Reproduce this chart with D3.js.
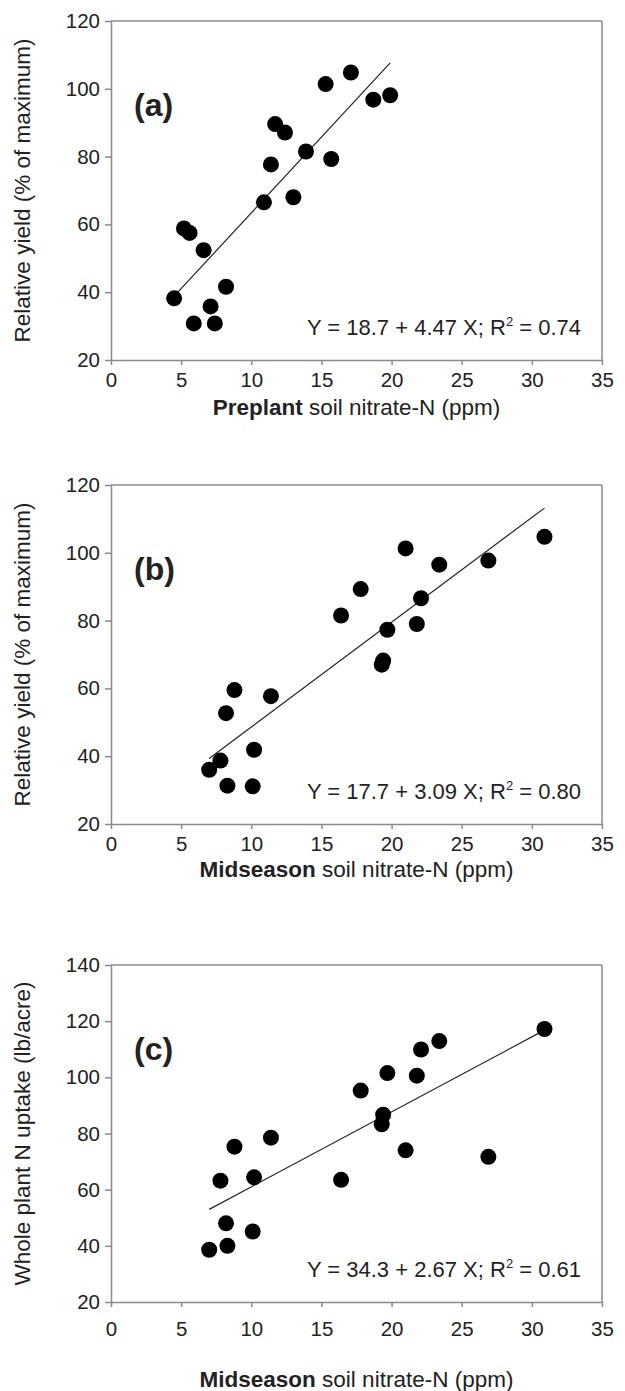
<!DOCTYPE html>
<html>
<head>
<meta charset="utf-8">
<script src="https://cdn.jsdelivr.net/npm/d3@7"></script>
<style>
  html, body { margin: 0; padding: 0; background: #fff; }
  svg { display: block; }
  text { font-family: "Liberation Sans", Arial, sans-serif; fill: #222; }
</style>
</head>
<body>
<svg id="chart" width="625" height="1391"></svg>
<script>
// ---------- DATA ----------
const xTicks = [0, 5, 10, 15, 20, 25, 30, 35];
const yieldTicks = [20, 40, 60, 80, 100, 120];
const uptakeTicks = [20, 40, 60, 80, 100, 120, 140];

// (a) Preplant soil nitrate-N vs relative yield
const preplantN = [4.5, 5.2, 5.6, 5.9, 6.6, 7.1, 7.4, 8.2, 10.9, 11.4, 11.7, 12.4, 13.0, 13.9, 15.3, 15.7, 17.1, 18.7, 19.9];
const preplantYield = [38.2, 58.8, 57.5, 30.8, 52.4, 35.8, 30.8, 41.6, 66.5, 77.7, 89.6, 87.1, 68.0, 81.5, 101.4, 79.3, 104.8, 96.8, 98.1];

// (b) & (c) Midseason soil nitrate-N
const midseasonN = [7.0, 7.8, 8.2, 8.3, 8.8, 10.1, 10.2, 11.4, 16.4, 17.8, 19.3, 19.4, 19.7, 21.0, 21.8, 22.1, 23.4, 26.9, 30.9];
const midseasonYield = [36.0, 38.7, 52.7, 31.3, 59.5, 31.1, 41.9, 57.7, 81.5, 89.3, 67.0, 68.2, 77.3, 101.3, 79.0, 86.6, 96.5, 97.7, 104.7];
const midseasonUptake = [38.6, 63.2, 48.0, 40.0, 75.3, 45.1, 64.4, 78.5, 63.5, 95.3, 83.3, 86.7, 101.5, 74.0, 100.6, 109.9, 112.9, 71.7, 117.2];

// regression coefficients [intercept, slope], R²
const fitA = [18.7, 4.47]; const r2A = "0.74";
const fitB = [17.7, 3.09]; const r2B = "0.80";
const fitC = [34.3, 2.67]; const r2C = "0.61";

const panelLabels = ["(a)", "(b)", "(c)"];
const xTitlesBold = ["Preplant", "Midseason", "Midseason"];
const xTitleRest = " soil nitrate-N (ppm)";
const yTitles = ["Relative yield (% of maximum)", "Relative yield (% of maximum)", "Whole plant N uptake (lb/acre)"];

// ---------- LAYOUT ----------
const svg = d3.select("#chart");
const left = 111, right = 602;
const panels = [
  { top: 21, bottom: 360, xs: preplantN, ys: preplantYield, yTicks: yieldTicks, fit: fitA, r2: r2A, tickDy: 26, titleY: 415 },
  { top: 485, bottom: 824, xs: midseasonN, ys: midseasonYield, yTicks: yieldTicks, fit: fitB, r2: r2B, tickDy: 26, titleY: 877 },
  { top: 965, bottom: 1302, xs: midseasonN, ys: midseasonUptake, yTicks: uptakeTicks, fit: fitC, r2: r2C, tickDy: 33, titleY: 1387 }
];

const axisColor = "#8a8a8a";
const tickFont = 20.5;

panels.forEach((p, i) => {
  const x = d3.scaleLinear().domain([0, 35]).range([left, right]);
  const y = d3.scaleLinear().domain(d3.extent(p.yTicks)).range([p.bottom, p.top]);
  const g = svg.append("g");

  // box (top & right borders)
  g.append("line").attr("x1", left).attr("x2", right).attr("y1", p.top).attr("y2", p.top)
    .attr("stroke", axisColor).attr("stroke-width", 1.5);
  g.append("line").attr("x1", right).attr("x2", right).attr("y1", p.top).attr("y2", p.bottom)
    .attr("stroke", axisColor).attr("stroke-width", 1.5);

  // axes
  const xAxis = d3.axisBottom(x).tickValues(xTicks).tickSize(5).tickSizeOuter(0).tickPadding(p.tickDy - 19);
  const yAxis = d3.axisLeft(y).tickValues(p.yTicks).tickSize(6).tickSizeOuter(0).tickPadding(5);
  const gx = g.append("g").attr("transform", `translate(0,${p.bottom})`).call(xAxis);
  const gy = g.append("g").attr("transform", `translate(${left},0)`).call(yAxis);
  [gx, gy].forEach(a => {
    a.select(".domain").attr("stroke", axisColor).attr("stroke-width", 1.5);
    a.selectAll(".tick line").attr("stroke", axisColor).attr("stroke-width", 1.5);
    a.selectAll(".tick text").attr("font-size", tickFont).attr("fill", "#222")
      .attr("font-family", "'Liberation Sans', Arial, sans-serif");
  });

  // regression line
  const [x0, x1] = d3.extent(p.xs);
  g.append("line")
    .attr("x1", x(x0)).attr("y1", y(p.fit[0] + p.fit[1] * x0))
    .attr("x2", x(x1)).attr("y2", y(p.fit[0] + p.fit[1] * x1))
    .attr("stroke", "#222").attr("stroke-width", 1.2);

  // points
  g.selectAll("circle").data(p.xs).join("circle")
    .attr("cx", d => x(d)).attr("cy", (d, k) => y(p.ys[k]))
    .attr("r", 8).attr("fill", "#000");

  // panel label
  g.append("text").attr("x", 134).attr("y", p.top + 95)
    .attr("font-size", 32).attr("font-weight", "bold").attr("fill", "#111")
    .text(panelLabels[i]);

  // equation
  const eq = g.append("text").attr("x", 581).attr("y", p.bottom - 25)
    .attr("text-anchor", "end").attr("font-size", 22).attr("fill", "#222");
  eq.append("tspan").text(`Y = ${p.fit[0]} + ${p.fit[1]} X; R`);
  eq.append("tspan").attr("font-size", 13).attr("dy", -9).text("2");
  eq.append("tspan").attr("dy", 9).text(` = ${p.r2}`);

  // x title
  const xt = g.append("text").attr("x", (left + right) / 2 + 0).attr("y", p.titleY)
    .attr("text-anchor", "middle").attr("font-size", 22.5).attr("fill", "#222");
  xt.append("tspan").attr("font-weight", "bold").text(xTitlesBold[i]);
  xt.append("tspan").text(xTitleRest);

  // y title
  g.append("text")
    .attr("transform", `translate(30,${(p.top + p.bottom) / 2}) rotate(-90)`)
    .attr("text-anchor", "middle").attr("font-size", 22.5).attr("fill", "#222")
    .text(yTitles[i]);
});
</script>
</body>
</html>
